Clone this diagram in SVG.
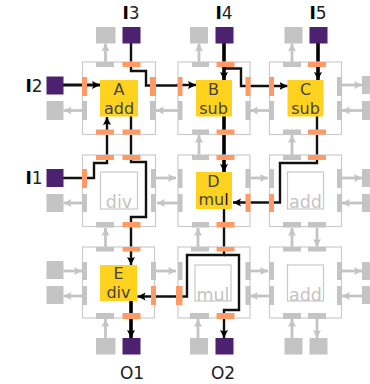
<svg xmlns="http://www.w3.org/2000/svg" width="370" height="384" viewBox="0 0 370 384">
<style>
.frame{fill:none;stroke:#cccccc;stroke-width:1.2}
.o{fill:#ff9a66}
.g{fill:#c4c4c4}
.io{fill:#4b2170}
.op{fill:#ffd21f}
.empty{fill:#fff;stroke:#c8c8c8;stroke-width:1.2}
text{font-family:"DejaVu Sans",sans-serif;text-anchor:middle}
.t{font-size:16px;fill:#444}
.e{font-size:17.500px;fill:#c4c4c4}
.l{font-size:17px;fill:#222}
.b{font-weight:bold;fill:#000}
.w{fill:none;stroke:#111;stroke-width:2.400}
.k{fill:none;stroke:#000;stroke-width:3.600}
.c{fill:none;stroke:#c4c4c4;stroke-width:2.800}
</style>
<defs>
<marker id="ab" markerUnits="userSpaceOnUse" markerWidth="9" markerHeight="9" refX="8" refY="4.500" orient="auto"><path d="M0,0.5L8,4.500L0,8.500L1.500,4.500Z" fill="#000"/></marker>
<marker id="ag" markerUnits="userSpaceOnUse" markerWidth="9" markerHeight="9" refX="8" refY="4.500" orient="auto"><path d="M0,0.5L8,4.500L0,8.500L1.500,4.500Z" fill="#c4c4c4"/></marker>
</defs>
<g id="connectors">
<g marker-end="url(#ag)">
<path class="c" d="M105.500 62V43.500"/><path class="c" d="M199 62V43.500"/><path class="c" d="M292 62V43.500"/>
<path class="c" d="M82 110.500H63.500"/><path class="c" d="M178 110.500H156"/><path class="c" d="M270 110.500H250"/>
<path class="c" d="M342 85H362"/><path class="c" d="M362 110.500H342"/>
<path class="c" d="M199 155V135"/><path class="c" d="M292 155V135"/>
<path class="c" d="M82 203H63.500"/><path class="c" d="M155 178H176"/><path class="c" d="M178 203H157"/>
<path class="c" d="M250 178H268"/><path class="c" d="M342 178H362"/><path class="c" d="M362 203H342"/>
<path class="c" d="M105.500 247V228"/><path class="c" d="M198 247V228"/><path class="c" d="M292 247V228"/><path class="c" d="M317 228V247"/>
<path class="c" d="M63.500 271H82"/><path class="c" d="M82 296H63.500"/><path class="c" d="M155 271H176"/>
<path class="c" d="M250 271H268"/><path class="c" d="M270 296H250"/><path class="c" d="M342 271H362"/><path class="c" d="M362 296H342"/>
<path class="c" d="M105.500 338V319"/><path class="c" d="M198 338V319"/><path class="c" d="M292 338V319"/><path class="c" d="M317 319V338"/>
</g>
<g marker-end="url(#ab)">
<path class="w" style="stroke-width:2.800" d="M63 85H100"/>
<path class="w" d="M131 43V71H146V85.500H178V85H196"/>
<path class="k" d="M224 38V80"/>
<path class="w" d="M224 68.500H241V86H287.500"/>
<path class="k" d="M318 38V80"/>
<path class="w" d="M63 178H94V163H107V117"/>
<path class="w" d="M131 116V162H146V217H131V265"/>
<path class="k" d="M224 116V172"/>
<path class="w" d="M317 116V163H280V202.500H233"/>
<path class="w" d="M224 209V255H187V296.500H137.500"/>
<path class="w" d="M224 255H239V310H224V338"/>
<path class="k" d="M131 301V338"/>
</g>
</g>
<g id="pad-I3"><rect class="io" x="122.500" y="27" width="18" height="16.500"/><text class="l" x="131" y="19"><tspan class="b">I</tspan>3</text></g>
<g id="pad-I4"><rect class="io" x="215.500" y="27" width="18" height="16.500"/><text class="l" x="224" y="19"><tspan class="b">I</tspan>4</text></g>
<g id="pad-I5"><rect class="io" x="309.500" y="27" width="18" height="16.500"/><text class="l" x="318" y="19"><tspan class="b">I</tspan>5</text></g>
<g id="pad-I2"><rect class="io" x="46.500" y="76.500" width="17" height="18"/><text class="l" x="34" y="91.500"><tspan class="b">I</tspan>2</text></g>
<g id="pad-I1"><rect class="io" x="46.500" y="169" width="17" height="18"/><text class="l" x="34" y="184"><tspan class="b">I</tspan>1</text></g>
<g id="pad-O1"><rect class="io" x="122.500" y="338" width="18" height="16.500"/><text class="l" x="132" y="379">O1</text></g>
<g id="pad-O2"><rect class="io" x="215.500" y="338" width="18" height="16.500"/><text class="l" x="223" y="379">O2</text></g>
<g id="unused-pads" class="g">
<rect x="96" y="27" width="19.500" height="16.500"/><rect x="190" y="27" width="18" height="16.500"/><rect x="284.500" y="27" width="18" height="16.500"/>
<rect x="46.500" y="101" width="17" height="19"/><rect x="46.500" y="194" width="17" height="18"/><rect x="46.500" y="261" width="17" height="18"/><rect x="46.500" y="286" width="17" height="18"/>
<rect x="362" y="76" width="8" height="18"/><rect x="362" y="101" width="8" height="19"/><rect x="362" y="169" width="8" height="18"/><rect x="362" y="194" width="8" height="18"/><rect x="362" y="262" width="8" height="18"/><rect x="362" y="286" width="8" height="18"/>
<rect x="96" y="338" width="19.500" height="16.500"/><rect x="190" y="338" width="18" height="16.500"/><rect x="284.500" y="338" width="18" height="16.500"/><rect x="309.500" y="338" width="18" height="16.500"/>
</g>
<g id="node-A"><rect class="frame" x="82.500" y="62" width="73" height="72.500"/>
<rect class="g" x="96" y="62" width="18" height="5"/><rect class="o" x="122.500" y="62" width="18" height="5"/>
<rect class="o" x="82" y="77" width="5" height="19"/><rect class="g" x="82" y="101" width="5" height="19"/>
<rect class="o" x="150" y="77" width="6" height="19"/><rect class="g" x="150" y="101" width="6" height="19"/>
<rect class="o" x="96" y="129.500" width="18" height="5"/><rect class="o" x="122.500" y="129.500" width="18" height="5"/>
<rect class="op" x="100" y="80" width="38" height="36.500"/><text class="t" x="119" y="95">A</text><text class="t" x="119" y="114">add</text></g>
<g id="node-B"><rect class="frame" x="178" y="62" width="72" height="72.500"/>
<rect class="g" x="192" y="62" width="17" height="5"/><rect class="o" x="216.500" y="62" width="18" height="5"/>
<rect class="o" x="178" y="77" width="4.500" height="19"/><rect class="g" x="178" y="101" width="4.500" height="19"/>
<rect class="o" x="245.500" y="77" width="5" height="19"/><rect class="g" x="245.500" y="101" width="5" height="19"/>
<rect class="g" x="192" y="129.500" width="17" height="5"/><rect class="o" x="216.500" y="129.500" width="18" height="5"/>
<rect class="op" x="196" y="80" width="36" height="36.500"/><text class="t" x="213.500" y="95">B</text><text class="t" x="213.500" y="114">sub</text></g>
<g id="node-C"><rect class="frame" x="269.500" y="62" width="72" height="72.500"/>
<rect class="g" x="283" y="62" width="18" height="5"/><rect class="o" x="308" y="62" width="18" height="5"/>
<rect class="o" x="269" y="77" width="5" height="19"/><rect class="g" x="269" y="101" width="5" height="19"/>
<rect class="g" x="337" y="77" width="5" height="19"/><rect class="g" x="337" y="101" width="5" height="19"/>
<rect class="g" x="283" y="129.500" width="18" height="5"/><rect class="o" x="308" y="129.500" width="18" height="5"/>
<rect class="op" x="287.500" y="80" width="36" height="36.500"/><text class="t" x="305.500" y="95">C</text><text class="t" x="305.500" y="114">sub</text></g>
<g id="node-div1"><rect class="frame" x="82.500" y="155" width="73" height="71.500"/>
<rect class="o" x="96" y="155" width="18" height="5"/><rect class="o" x="122.500" y="155" width="18" height="5"/>
<rect class="o" x="82" y="169" width="5" height="19"/><rect class="g" x="82" y="194" width="5" height="18"/>
<rect class="g" x="151" y="169" width="5" height="19"/><rect class="g" x="151" y="194" width="5" height="18"/>
<rect class="g" x="96" y="222" width="18" height="5.500"/><rect class="o" x="122.500" y="222" width="18" height="5.500"/>
<rect class="empty" x="100.500" y="172" width="37" height="37"/><text class="e" x="119" y="208">div</text></g>
<g id="node-D"><rect class="frame" x="178" y="155" width="72" height="71.500"/>
<rect class="g" x="192" y="155" width="17" height="5"/><rect class="o" x="216.500" y="155" width="18" height="5"/>
<rect class="g" x="178" y="169" width="4.500" height="19"/><rect class="g" x="178" y="194" width="4.500" height="18"/>
<rect class="g" x="245.500" y="169" width="5" height="19"/><rect class="o" x="245.500" y="194" width="5" height="18"/>
<rect class="g" x="192" y="222" width="17" height="5.500"/><rect class="o" x="216.500" y="222" width="18" height="5.500"/>
<rect class="op" x="196" y="172" width="36" height="37"/><text class="t" x="213.500" y="187">D</text><text class="t" x="213.500" y="205">mu<tspan fill="#111">l</tspan></text></g>
<g id="node-add1"><rect class="frame" x="269.500" y="155" width="72" height="71.500"/>
<rect class="g" x="283" y="155" width="18" height="5"/><rect class="o" x="308" y="155" width="18" height="5"/>
<rect class="g" x="269" y="169" width="5" height="19"/><rect class="o" x="269" y="194" width="5" height="18"/>
<rect class="g" x="337" y="169" width="5" height="19"/><rect class="g" x="337" y="194" width="5" height="18"/>
<rect class="g" x="283" y="222" width="18" height="5.500"/><rect class="g" x="308" y="222" width="18" height="5.500"/>
<rect class="empty" x="287.500" y="172" width="36" height="37"/><text class="e" x="305.500" y="208">add</text></g>
<g id="node-E"><rect class="frame" x="82.500" y="247" width="72" height="71"/>
<rect class="g" x="96" y="247" width="18" height="4.500"/><rect class="o" x="122.500" y="247" width="18" height="4.500"/>
<rect class="g" x="82" y="262" width="5" height="18"/><rect class="g" x="82" y="286" width="5" height="19"/>
<rect class="g" x="151" y="262" width="5" height="18"/><rect class="o" x="151" y="286" width="5" height="19"/>
<rect class="g" x="96" y="313" width="18" height="6"/><rect class="o" x="122.500" y="313" width="18" height="6"/>
<rect class="op" x="100" y="265" width="37" height="36"/><text class="t" x="118.500" y="279">E</text><text class="t" x="118.500" y="298">div</text></g>
<g id="node-mul"><rect class="frame" x="178" y="247" width="72" height="71"/>
<rect class="g" x="191" y="247" width="18" height="4.500"/><rect class="o" x="216.500" y="247" width="18" height="4.500"/>
<rect class="g" x="178" y="262" width="4.500" height="18"/><rect class="o" x="176" y="286" width="6.500" height="19"/>
<rect class="g" x="245.500" y="262" width="5" height="18"/><rect class="g" x="245.500" y="286" width="5" height="19"/>
<rect class="g" x="190" y="313" width="19" height="6"/><rect class="o" x="216.500" y="313" width="18" height="6"/>
<rect class="empty" x="195" y="265" width="36" height="36"/><text class="e" x="213" y="301">mul</text></g>
<g id="node-add2"><rect class="frame" x="269.500" y="247" width="72" height="71"/>
<rect class="g" x="283" y="247" width="18" height="4.500"/><rect class="g" x="308" y="247" width="18" height="4.500"/>
<rect class="g" x="269" y="262" width="5" height="18"/><rect class="g" x="269" y="286" width="5" height="19"/>
<rect class="g" x="337" y="262" width="5" height="18"/><rect class="g" x="337" y="286" width="5" height="19"/>
<rect class="g" x="283" y="313" width="18" height="6"/><rect class="g" x="308" y="313" width="18" height="6"/>
<rect class="empty" x="287.500" y="265" width="36" height="36"/><text class="e" x="305.500" y="301">add</text></g>
</svg>
